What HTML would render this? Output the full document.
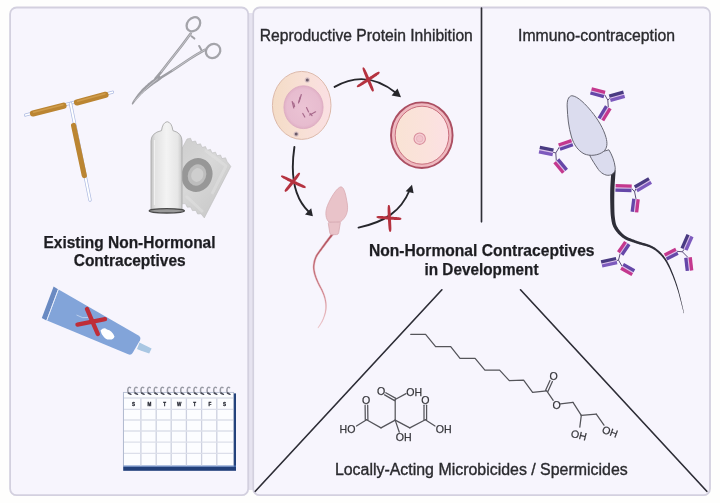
<!DOCTYPE html>
<html><head><meta charset="utf-8">
<style>
html,body{margin:0;padding:0;background:#fefefd;}
body{width:720px;height:503px;overflow:hidden;font-family:"Liberation Sans",sans-serif;}
svg{display:block;position:absolute;left:0;top:0;}
text{font-family:"Liberation Sans",sans-serif;fill:#2a2a2e;}
.b{font-weight:bold;fill:#1f1f22;}
</style></head><body>
<svg width="720" height="503" viewBox="0 0 720 503">
<defs>
<filter id="soft" x="-5%" y="-5%" width="110%" height="110%"><feGaussianBlur stdDeviation="0.45"/></filter>
</defs>
<rect x="0" y="0" width="720" height="503" fill="#fefefd"/>
<!-- PANELS -->
<g id="panels" filter="url(#soft)">
<line x1="250.7" y1="13" x2="250.7" y2="490" stroke="#e6e3f0" stroke-width="4"/>
<rect x="10.1" y="7.5" width="238.1" height="487.7" rx="6.5" ry="6.5" fill="#f7f5fd" stroke="#d3d0df" stroke-width="1.8"/>
<rect x="253.2" y="7.5" width="456.8" height="487.7" rx="6.5" ry="6.5" fill="#f7f5fd" stroke="#d3d0df" stroke-width="1.8"/>
</g>
<!-- DIVIDERS -->
<g id="dividers" stroke="#2d2d36" stroke-width="1.65" stroke-linecap="round" filter="url(#soft)">
<line x1="481.5" y1="8" x2="481.5" y2="221.8"/>
<line x1="255.3" y1="491.3" x2="441.9" y2="289.8"/>
<line x1="706.8" y1="491.3" x2="520.5" y2="289.8"/>
</g>
<!-- TEXT -->
<g id="labels" filter="url(#soft)">
<g stroke="#2a2a2e" stroke-width="0.35">
<text x="259.8" y="40.8" font-size="15.8" textLength="213" lengthAdjust="spacingAndGlyphs">Reproductive Protein Inhibition</text>
<text x="518" y="40.8" font-size="15.8" textLength="157" lengthAdjust="spacingAndGlyphs">Immuno-contraception</text>
<text x="334.9" y="475.1" font-size="15.8" textLength="292.8" lengthAdjust="spacingAndGlyphs">Locally-Acting Microbicides / Spermicides</text>
</g>
<g stroke="#1f1f22" stroke-width="0.25">
<text class="b" x="43.5" y="247.6" font-size="15.8" textLength="172" lengthAdjust="spacingAndGlyphs">Existing Non-Hormonal</text>
<text class="b" x="73.7" y="266.3" font-size="15.8" textLength="112" lengthAdjust="spacingAndGlyphs">Contraceptives</text>
<text class="b" x="369" y="256.0" font-size="15.8" textLength="225.5" lengthAdjust="spacingAndGlyphs">Non-Hormonal Contraceptives</text>
<text class="b" x="424.5" y="274.5" font-size="15.8" textLength="114" lengthAdjust="spacingAndGlyphs">in Development</text>
</g>
</g>
<!-- ===== LEFT PANEL ===== -->
<defs>
<linearGradient id="gCondom" x1="0" x2="1" y1="0" y2="0">
<stop offset="0" stop-color="#c4c4c4"/><stop offset="0.14" stop-color="#e2e2e2"/><stop offset="0.5" stop-color="#f3f3f3"/><stop offset="0.86" stop-color="#e6e6e6"/><stop offset="1" stop-color="#c8c8c8"/>
</linearGradient>
<linearGradient id="gWrap" x1="0" x2="1" y1="0" y2="1">
<stop offset="0" stop-color="#c9c9c9"/><stop offset="0.5" stop-color="#d8d8d8"/><stop offset="1" stop-color="#c4c4c4"/>
</linearGradient>
<linearGradient id="gCopper" x1="0" x2="0" y1="0" y2="1">
<stop offset="0" stop-color="#c8933f"/><stop offset="1" stop-color="#ad7526"/>
</linearGradient>
</defs>
<g id="iud" filter="url(#soft)">
<line x1="25.5" y1="115" x2="112.5" y2="92.2" stroke="#aebbe2" stroke-width="3.2" stroke-linecap="round"/>
<line x1="25.5" y1="115" x2="112.5" y2="92.2" stroke="#ffffff" stroke-width="1.7" stroke-linecap="round"/>
<line x1="70.5" y1="103.5" x2="90" y2="200" stroke="#aebbe2" stroke-width="3.4" stroke-linecap="round"/>
<line x1="70.5" y1="103.5" x2="90" y2="200" stroke="#ffffff" stroke-width="1.9" stroke-linecap="round"/>
<line x1="33" y1="113.4" x2="63.5" y2="105.7" stroke="#bb8533" stroke-width="6.2" stroke-linecap="round"/>
<line x1="77" y1="102.4" x2="105.5" y2="94.8" stroke="#bb8533" stroke-width="6.2" stroke-linecap="round"/>
<line x1="73.6" y1="125.5" x2="84.3" y2="175.5" stroke="#bb8533" stroke-width="5.2" stroke-linecap="round"/>
<line x1="33.5" y1="112.2" x2="63" y2="104.7" stroke="#cf9c4b" stroke-width="1.4" stroke-linecap="round"/>
<line x1="77.5" y1="101.2" x2="105" y2="93.8" stroke="#cf9c4b" stroke-width="1.4" stroke-linecap="round"/>
</g>
<g id="forceps" filter="url(#soft)" fill="none" stroke-linecap="round">
<ellipse cx="193.4" cy="24.3" rx="6.1" ry="7.7" transform="rotate(40 193.4 24.3)" stroke="#a4a4aa" stroke-width="2.3"/>
<ellipse cx="213.1" cy="51" rx="7.6" ry="6.7" transform="rotate(-40 213.1 51)" stroke="#a4a4aa" stroke-width="2.3"/>
<path d="M190.7,33.6 C185,41.5 179.5,48.8 173.4,56.3 C169,61.8 165,67 161.4,71.6 C159.5,74 157.5,76.3 155.5,78.6" stroke="#9e9ea4" stroke-width="2.6"/>
<path d="M204.8,49.8 C199,53 194,56 188.8,59.5 C183,63.4 178,66.8 172.4,70.5 C167.5,73.7 162,77 157,80" stroke="#9e9ea4" stroke-width="2.6"/>
<path d="M190.7,33.6 C185,41.5 179.5,48.8 173.4,56.3 C169,61.8 165,67 161.4,71.6" stroke="#d4d4d9" stroke-width="0.7"/>
<path d="M204.8,49.8 C199,53 194,56 188.8,59.5 C183,63.4 178,66.8 172.4,70.5" stroke="#d4d4d9" stroke-width="0.7"/>
<path d="M191.5,36.2 L194.4,38.6" stroke="#a1a1a7" stroke-width="2"/>
<path d="M199.2,46 L201.4,50" stroke="#a1a1a7" stroke-width="2"/>
<path d="M159.28,75.29 L159.06,75.44 L158.79,75.62 L158.47,75.84 L158.11,76.08 L157.72,76.35 L157.30,76.63 L156.87,76.92 L156.43,77.23 L155.98,77.53 L155.55,77.83 L155.13,78.12 L154.73,78.40 L154.36,78.66 L154.01,78.91 L153.65,79.16 L153.29,79.41 L152.92,79.66 L152.54,79.93 L152.14,80.21 L151.74,80.51 L151.31,80.83 L150.86,81.17 L150.39,81.55 L149.90,81.95 L149.39,82.38 L148.84,82.84 L148.27,83.33 L147.67,83.85 L147.06,84.38 L146.44,84.93 L145.81,85.49 L145.19,86.06 L144.58,86.63 L143.99,87.19 L143.41,87.74 L142.87,88.29 L142.35,88.81 L141.86,89.34 L141.37,89.86 L140.90,90.39 L140.44,90.91 L139.99,91.43 L139.55,91.95 L139.11,92.47 L138.69,93.00 L138.27,93.53 L137.85,94.06 L137.43,94.59 L137.01,95.15 L136.58,95.73 L136.15,96.33 L135.72,96.93 L135.29,97.54 L134.88,98.14 L134.49,98.72 L134.11,99.29 L133.76,99.83 L133.43,100.34 L133.14,100.80 L132.88,101.23 L132.66,101.61 L132.46,101.97 L132.30,102.31 L132.16,102.61 L132.05,102.89 L131.96,103.14 L131.89,103.36 L131.83,103.56 L131.79,103.73 L131.75,103.88 L131.71,104.00 L131.67,104.11 L132.73,104.69 L132.81,104.57 L132.90,104.44 L133.00,104.31 L133.10,104.17 L133.21,104.02 L133.34,103.85 L133.48,103.67 L133.64,103.46 L133.82,103.24 L134.02,102.98 L134.25,102.70 L134.52,102.37 L134.82,102.00 L135.17,101.58 L135.54,101.12 L135.94,100.63 L136.36,100.11 L136.80,99.58 L137.26,99.03 L137.72,98.48 L138.19,97.94 L138.65,97.41 L139.11,96.89 L139.57,96.41 L140.02,95.93 L140.47,95.46 L140.93,95.00 L141.39,94.54 L141.85,94.09 L142.32,93.63 L142.80,93.18 L143.29,92.73 L143.78,92.28 L144.29,91.83 L144.80,91.37 L145.33,90.91 L145.88,90.45 L146.46,89.96 L147.07,89.47 L147.69,88.96 L148.32,88.46 L148.96,87.95 L149.60,87.46 L150.23,86.97 L150.84,86.51 L151.42,86.06 L151.98,85.64 L152.50,85.25 L152.97,84.90 L153.41,84.59 L153.83,84.30 L154.23,84.03 L154.61,83.77 L154.99,83.52 L155.36,83.28 L155.73,83.04 L156.10,82.79 L156.48,82.54 L156.87,82.27 L157.27,82.00 L157.67,81.71 L158.09,81.41 L158.52,81.09 L158.95,80.77 L159.38,80.46 L159.80,80.14 L160.20,79.84 L160.58,79.56 L160.93,79.30 L161.24,79.07 L161.50,78.87 L161.72,78.71 Z" fill="#9d9da3" stroke="none"/>
<path d="M157.5,79 C150,84.5 141.5,92.5 134.5,101" stroke="#d2d2d7" stroke-width="0.7"/>
</g>
<g id="condom" filter="url(#soft)">
<!-- wrapper -->
<path d="M187,139 L190.5,138.2 L192,141.8 L195.5,141 L197,144.6 L200.5,143.8 L202,147.4 L205.5,146.6 L207,150.2 L210.5,149.4 L212,153 L215.5,152.2 L217,155.8 L220.5,155 L222,158.6 L225.5,157.8 L227,161.4 L230.8,166.4 L204.3,217.9 L201,213.8 L197.6,214 L195.8,210.4 L192.4,210.6 L190.6,207 L187.2,207.2 L185.4,203.6 L182,203.8 L159.7,190.5 Z" fill="url(#gWrap)" stroke="#bdbdbd" stroke-width="0.6"/>
<path d="M205,150 L226,166 L212,194 M186,196 L203,212" stroke="#e2e2e2" stroke-width="3" opacity="0.5" fill="none" stroke-linejoin="round"/>
<ellipse cx="197" cy="175" rx="12.2" ry="14" transform="rotate(20 197 175)" fill="#bdbdbd" stroke="#979797" stroke-width="6.2"/>
<ellipse cx="197.3" cy="175" rx="6" ry="7" transform="rotate(20 197.3 175)" fill="#cecece"/>
<!-- condom body -->
<path d="M151,211 L151,141 Q151,133 161.5,130.6 Q162.6,122.4 167.2,121.7 Q171.8,122.4 172.9,130.6 Q182,133 182,141 L182,211 Z" fill="url(#gCondom)" stroke="#aaaaaa" stroke-width="0.9"/>
<path d="M154.5,140 L154.5,205" stroke="#f6f6f6" stroke-width="1.2" opacity="0.8"/>
<ellipse cx="166.8" cy="210.8" rx="17.6" ry="2.2" fill="#9a9a9a" stroke="#4c4c4c" stroke-width="1.3"/>
</g>
<g id="tube" filter="url(#soft)">
<path d="M58.6,289.6 L138.5,335.6 Q141.3,337.4 140,340.2 L132.6,353 Q131,355.4 128.2,354.3 L47,320.6 Z" fill="#82a4d9"/>
<path d="M53.6,286.4 L58,289.2 L46.4,320.4 L41.8,318 Z" fill="#6a8ac2"/>
<path d="M58.3,289.4 L46.8,320.4" stroke="#e8eefb" stroke-width="0.9"/>
<path d="M139.5,342.5 L143,344.2 L151.6,348.6 L149.2,353.6 L140.5,350.6 L137,349 Z" fill="#a9c7e3"/>
<path d="M76.5,315 Q83,319 88,317.5" stroke="#e6ecfa" stroke-width="1" fill="none" opacity="0.55"/>
<path d="M100.5,330.5 Q104,326.5 107,329.5 Q112,330.5 114.5,336.5 Q113.8,339.8 109.5,339.6 Q105.5,339.8 103.5,336.5 Q101.2,334 100.5,330.5 Z" fill="#ffffff"/>
<g stroke="#bf2d39" stroke-width="4.4" stroke-linecap="round">
<line x1="77.5" y1="324.6" x2="105" y2="319.2"/>
<line x1="87" y1="309" x2="97.8" y2="334"/>
</g>
</g>
<g id="calendar" filter="url(#soft)">
<rect x="123.2" y="393.4" width="112.8" height="77.4" fill="#203f7a"/>
<rect x="123.4" y="392.4" width="110.2" height="73.8" fill="#fcfdff" stroke="#b3bbd0" stroke-width="0.9"/>
<rect x="123.4" y="465.6" width="112.6" height="1" fill="#5b82c2"/>
<g stroke="#cdd1e0" stroke-width="1.3">
<line x1="140.9" y1="398" x2="140.9" y2="465.5"/><line x1="156.2" y1="398" x2="156.2" y2="465.5"/><line x1="171.2" y1="398" x2="171.2" y2="465.5"/><line x1="186.4" y1="398" x2="186.4" y2="465.5"/><line x1="201.6" y1="398" x2="201.6" y2="465.5"/><line x1="216.8" y1="398" x2="216.8" y2="465.5"/>
</g>
<g stroke="#dcdfea" stroke-width="1.3">
<line x1="124" y1="398" x2="233" y2="398"/><line x1="124" y1="409.3" x2="233" y2="409.3"/><line x1="124" y1="420" x2="233" y2="420"/><line x1="124" y1="431" x2="233" y2="431"/><line x1="124" y1="442.2" x2="233" y2="442.2"/><line x1="124" y1="453.3" x2="233" y2="453.3"/>
</g>
<g font-size="4.6" font-weight="bold" text-anchor="middle" style="fill:#262a38" stroke="#262a38" stroke-width="0.3">
<text x="133.6" y="405.5">S</text><text x="149.3" y="405.5">M</text><text x="164.6" y="405.5">T</text><text x="179.1" y="405.5">W</text><text x="194.6" y="405.5">T</text><text x="209.8" y="405.5">F</text><text x="224.6" y="405.5">S</text>
</g>
<g id="rings"><path d="M130.5,387.6 C127.4,385.6 127.0,392.2 129.2,393.6" fill="none" stroke="#9a9ca6" stroke-width="1.5" stroke-linecap="round"/><path d="M128.4,393 L130.9,394.3" stroke="#4a4c58" stroke-width="1.5" stroke-linecap="round"/><path d="M137.1,387.6 C134.0,385.6 133.6,392.2 135.8,393.6" fill="none" stroke="#9a9ca6" stroke-width="1.5" stroke-linecap="round"/><path d="M135.0,393 L137.5,394.3" stroke="#4a4c58" stroke-width="1.5" stroke-linecap="round"/><path d="M143.7,387.6 C140.6,385.6 140.2,392.2 142.4,393.6" fill="none" stroke="#9a9ca6" stroke-width="1.5" stroke-linecap="round"/><path d="M141.6,393 L144.1,394.3" stroke="#4a4c58" stroke-width="1.5" stroke-linecap="round"/><path d="M150.3,387.6 C147.2,385.6 146.8,392.2 149.0,393.6" fill="none" stroke="#9a9ca6" stroke-width="1.5" stroke-linecap="round"/><path d="M148.2,393 L150.7,394.3" stroke="#4a4c58" stroke-width="1.5" stroke-linecap="round"/><path d="M156.9,387.6 C153.8,385.6 153.4,392.2 155.6,393.6" fill="none" stroke="#9a9ca6" stroke-width="1.5" stroke-linecap="round"/><path d="M154.8,393 L157.3,394.3" stroke="#4a4c58" stroke-width="1.5" stroke-linecap="round"/><path d="M163.5,387.6 C160.4,385.6 160.0,392.2 162.2,393.6" fill="none" stroke="#9a9ca6" stroke-width="1.5" stroke-linecap="round"/><path d="M161.4,393 L163.9,394.3" stroke="#4a4c58" stroke-width="1.5" stroke-linecap="round"/><path d="M170.1,387.6 C167.0,385.6 166.6,392.2 168.8,393.6" fill="none" stroke="#9a9ca6" stroke-width="1.5" stroke-linecap="round"/><path d="M168.0,393 L170.5,394.3" stroke="#4a4c58" stroke-width="1.5" stroke-linecap="round"/><path d="M176.7,387.6 C173.6,385.6 173.2,392.2 175.4,393.6" fill="none" stroke="#9a9ca6" stroke-width="1.5" stroke-linecap="round"/><path d="M174.6,393 L177.1,394.3" stroke="#4a4c58" stroke-width="1.5" stroke-linecap="round"/><path d="M183.4,387.6 C180.3,385.6 179.9,392.2 182.1,393.6" fill="none" stroke="#9a9ca6" stroke-width="1.5" stroke-linecap="round"/><path d="M181.3,393 L183.8,394.3" stroke="#4a4c58" stroke-width="1.5" stroke-linecap="round"/><path d="M190.0,387.6 C186.9,385.6 186.5,392.2 188.7,393.6" fill="none" stroke="#9a9ca6" stroke-width="1.5" stroke-linecap="round"/><path d="M187.9,393 L190.4,394.3" stroke="#4a4c58" stroke-width="1.5" stroke-linecap="round"/><path d="M196.6,387.6 C193.5,385.6 193.1,392.2 195.3,393.6" fill="none" stroke="#9a9ca6" stroke-width="1.5" stroke-linecap="round"/><path d="M194.5,393 L197.0,394.3" stroke="#4a4c58" stroke-width="1.5" stroke-linecap="round"/><path d="M203.2,387.6 C200.1,385.6 199.7,392.2 201.9,393.6" fill="none" stroke="#9a9ca6" stroke-width="1.5" stroke-linecap="round"/><path d="M201.1,393 L203.6,394.3" stroke="#4a4c58" stroke-width="1.5" stroke-linecap="round"/><path d="M209.8,387.6 C206.7,385.6 206.3,392.2 208.5,393.6" fill="none" stroke="#9a9ca6" stroke-width="1.5" stroke-linecap="round"/><path d="M207.7,393 L210.2,394.3" stroke="#4a4c58" stroke-width="1.5" stroke-linecap="round"/><path d="M216.4,387.6 C213.3,385.6 212.9,392.2 215.1,393.6" fill="none" stroke="#9a9ca6" stroke-width="1.5" stroke-linecap="round"/><path d="M214.3,393 L216.8,394.3" stroke="#4a4c58" stroke-width="1.5" stroke-linecap="round"/><path d="M223.0,387.6 C219.9,385.6 219.5,392.2 221.7,393.6" fill="none" stroke="#9a9ca6" stroke-width="1.5" stroke-linecap="round"/><path d="M220.9,393 L223.4,394.3" stroke="#4a4c58" stroke-width="1.5" stroke-linecap="round"/><path d="M229.6,387.6 C226.5,385.6 226.1,392.2 228.3,393.6" fill="none" stroke="#9a9ca6" stroke-width="1.5" stroke-linecap="round"/><path d="M227.5,393 L230.0,394.3" stroke="#4a4c58" stroke-width="1.5" stroke-linecap="round"/></g>
</g>
<!-- ===== REPRODUCTIVE PROTEIN INHIBITION ===== -->
<defs>
<linearGradient id="gCellOuter" x1="0" x2="1" y1="0" y2="0">
<stop offset="0" stop-color="#f4dcc6"/><stop offset="0.55" stop-color="#f8e0d6"/><stop offset="1" stop-color="#fadfe3"/>
</linearGradient>
<linearGradient id="gEggInner" x1="0" x2="1" y1="0" y2="0">
<stop offset="0" stop-color="#f9e3d4"/><stop offset="0.6" stop-color="#fbe2dc"/><stop offset="1" stop-color="#fce0e4"/>
</linearGradient>
<radialGradient id="gNuc" cx="0.5" cy="0.5" r="0.5">
<stop offset="0" stop-color="#ebc3d4"/><stop offset="0.85" stop-color="#e7bccf"/><stop offset="1" stop-color="#e0b0c6"/>
</radialGradient>
<linearGradient id="gTailPink" x1="0" x2="0" y1="0" y2="1">
<stop offset="0" stop-color="#b2525f"/><stop offset="0.6" stop-color="#c46e79"/><stop offset="1" stop-color="#e3b0b6"/>
</linearGradient>
</defs>
<g id="cell" filter="url(#soft)">
<ellipse cx="301.7" cy="105.4" rx="29.3" ry="34" fill="url(#gCellOuter)" stroke="#dcb9aa" stroke-width="1"/>
<ellipse cx="303.5" cy="107.2" rx="19.6" ry="21.4" fill="url(#gNuc)" stroke="#dcaac0" stroke-width="0.8"/>
<circle cx="307.3" cy="79.9" r="2.6" fill="#c9b3bd" opacity="0.7"/><circle cx="307.3" cy="79.9" r="1.5" fill="#6b5a68"/>
<circle cx="296.2" cy="134.1" r="2.6" fill="#c9b3bd" opacity="0.7"/><circle cx="296.2" cy="134.1" r="1.5" fill="#6b5a68"/>
<g stroke="#a86a8c" stroke-width="1.2" stroke-linecap="round" fill="none">
<path d="M301.3,94.5 L299.2,101.5"/><path d="M300.2,97 L298.5,103"/>
<path d="M292.2,101.5 L293.8,108"/><path d="M293.6,103 L294.6,106.5"/>
<path d="M306.5,107.5 L308.6,112"/><path d="M302.8,113.5 L304.8,117"/>
<path d="M309.7,115 L315.6,111.8"/><path d="M310,113.5 L312,115.5"/>
</g>
</g>
<g id="egg" filter="url(#soft)">
<ellipse cx="421.8" cy="135.2" rx="30.8" ry="32.8" fill="#efb9c0" stroke="#ac4f62" stroke-width="1.9"/>
<ellipse cx="422" cy="135.2" rx="26.8" ry="29" fill="url(#gEggInner)" stroke="#c96f7d" stroke-width="1"/>
<circle cx="419.7" cy="138.7" r="5.7" fill="#f5ced3" stroke="#d98f9d" stroke-width="1.1"/>
<circle cx="419.7" cy="138.7" r="3.3" fill="#f2c2ca" stroke="#e3a7b3" stroke-width="0.6"/>
</g>
<g id="arrows" filter="url(#soft)" fill="none" stroke="#26262c" stroke-width="1.9" stroke-linecap="round">
<path d="M334.6,86.9 Q366.5,68.6 396.5,93.3"/>
<path d="M294.4,147 C291,170 292.5,196 308.5,211.5"/>
<path d="M358.5,227.6 C385,222 401,211 409.5,190.5"/>
<g fill="#26262c" stroke="none">
<path d="M401,97.2 L391.6,95.4 L397.5,88.4 Z"/>
<path d="M312.9,216.3 L305,214.4 L311.2,208.2 Z"/>
<path d="M412,184.8 L405.7,191.2 L413.6,193.2 Z"/>
</g>
</g>
<g id="redx" filter="url(#soft)" fill="#b5323f" stroke="none">
<path d="M362.50,67.86 L362.52,67.97 L362.53,68.10 L362.54,68.24 L362.55,68.40 L362.57,68.58 L362.59,68.78 L362.62,69.00 L362.65,69.23 L362.70,69.49 L362.76,69.76 L362.84,70.06 L362.93,70.38 L363.04,70.72 L363.17,71.09 L363.30,71.48 L363.45,71.88 L363.60,72.31 L363.77,72.75 L363.95,73.22 L364.14,73.70 L364.34,74.21 L364.55,74.73 L364.76,75.27 L364.99,75.82 L365.23,76.41 L365.49,77.04 L365.77,77.72 L366.06,78.41 L366.37,79.13 L366.67,79.86 L366.99,80.59 L367.29,81.30 L367.59,82.00 L367.89,82.68 L368.16,83.32 L368.42,83.91 L368.66,84.47 L368.90,85.02 L369.13,85.55 L369.35,86.07 L369.57,86.57 L369.78,87.05 L369.99,87.51 L370.19,87.94 L370.38,88.36 L370.57,88.75 L370.75,89.12 L370.92,89.45 L371.09,89.76 L371.25,90.04 L371.42,90.30 L371.57,90.53 L371.73,90.73 L371.87,90.92 L372.00,91.08 L372.13,91.23 L372.24,91.37 L372.35,91.48 L372.43,91.59 L372.51,91.69 L373.89,91.11 L373.87,90.99 L373.86,90.85 L373.85,90.69 L373.83,90.52 L373.81,90.33 L373.79,90.11 L373.76,89.88 L373.72,89.63 L373.66,89.35 L373.59,89.06 L373.51,88.74 L373.41,88.41 L373.29,88.05 L373.15,87.66 L373.00,87.26 L372.84,86.83 L372.67,86.38 L372.48,85.91 L372.28,85.42 L372.08,84.92 L371.86,84.40 L371.64,83.86 L371.42,83.31 L371.18,82.74 L370.94,82.14 L370.67,81.50 L370.39,80.82 L370.09,80.12 L369.79,79.40 L369.48,78.67 L369.17,77.94 L368.87,77.22 L368.57,76.53 L368.28,75.86 L368.00,75.23 L367.75,74.65 L367.50,74.10 L367.26,73.57 L367.03,73.06 L366.80,72.57 L366.58,72.09 L366.37,71.64 L366.16,71.21 L365.96,70.80 L365.77,70.42 L365.58,70.05 L365.40,69.71 L365.23,69.40 L365.07,69.11 L364.90,68.85 L364.74,68.61 L364.59,68.40 L364.45,68.21 L364.31,68.04 L364.18,67.89 L364.06,67.76 L363.95,67.64 L363.85,67.53 L363.77,67.43 L363.70,67.34 Z"/>
<path d="M357.34,87.35 L357.45,87.32 L357.58,87.28 L357.73,87.25 L357.89,87.21 L358.08,87.17 L358.27,87.11 L358.49,87.05 L358.73,86.97 L358.99,86.88 L359.26,86.77 L359.56,86.64 L359.87,86.49 L360.20,86.32 L360.56,86.13 L360.93,85.93 L361.32,85.72 L361.74,85.48 L362.17,85.24 L362.62,84.97 L363.09,84.70 L363.57,84.41 L364.07,84.11 L364.59,83.79 L365.12,83.46 L365.68,83.11 L366.28,82.73 L366.91,82.33 L367.58,81.90 L368.25,81.46 L368.94,81.02 L369.62,80.57 L370.30,80.12 L370.96,79.69 L371.59,79.26 L372.19,78.87 L372.75,78.49 L373.27,78.14 L373.78,77.79 L374.28,77.45 L374.76,77.12 L375.23,76.80 L375.67,76.49 L376.10,76.20 L376.50,75.91 L376.88,75.63 L377.24,75.36 L377.57,75.11 L377.88,74.87 L378.16,74.64 L378.41,74.41 L378.64,74.20 L378.84,73.99 L379.02,73.80 L379.17,73.62 L379.32,73.45 L379.44,73.29 L379.55,73.15 L379.65,73.02 L379.74,72.91 L379.82,72.82 L378.98,71.58 L378.86,71.62 L378.72,71.67 L378.57,71.72 L378.40,71.77 L378.21,71.83 L378.00,71.90 L377.77,71.98 L377.53,72.07 L377.27,72.18 L376.99,72.31 L376.69,72.46 L376.37,72.63 L376.03,72.83 L375.67,73.04 L375.29,73.27 L374.89,73.52 L374.47,73.79 L374.04,74.07 L373.59,74.36 L373.12,74.67 L372.64,74.98 L372.14,75.31 L371.62,75.64 L371.09,75.99 L370.53,76.35 L369.93,76.74 L369.30,77.15 L368.63,77.58 L367.96,78.02 L367.27,78.46 L366.59,78.90 L365.91,79.34 L365.26,79.77 L364.63,80.19 L364.04,80.58 L363.49,80.94 L362.98,81.29 L362.48,81.62 L362.00,81.94 L361.54,82.25 L361.09,82.55 L360.66,82.85 L360.26,83.13 L359.87,83.40 L359.50,83.66 L359.16,83.91 L358.84,84.14 L358.54,84.37 L358.27,84.59 L358.03,84.80 L357.81,84.99 L357.62,85.18 L357.44,85.36 L357.29,85.52 L357.16,85.68 L357.03,85.82 L356.93,85.95 L356.83,86.06 L356.74,86.16 L356.66,86.25 Z"/>
<path d="M280.90,176.48 L280.99,176.56 L281.09,176.65 L281.20,176.76 L281.32,176.88 L281.46,177.02 L281.61,177.17 L281.78,177.32 L281.98,177.49 L282.20,177.66 L282.44,177.85 L282.71,178.04 L283.01,178.23 L283.33,178.43 L283.68,178.64 L284.05,178.86 L284.45,179.09 L284.87,179.33 L285.32,179.58 L285.78,179.83 L286.27,180.10 L286.78,180.37 L287.31,180.64 L287.86,180.92 L288.42,181.21 L289.02,181.51 L289.67,181.83 L290.36,182.17 L291.07,182.51 L291.81,182.86 L292.56,183.22 L293.30,183.57 L294.04,183.92 L294.77,184.26 L295.46,184.58 L296.12,184.88 L296.74,185.16 L297.32,185.43 L297.89,185.68 L298.44,185.93 L298.98,186.17 L299.49,186.40 L299.99,186.61 L300.47,186.81 L300.93,187.00 L301.36,187.18 L301.78,187.34 L302.17,187.49 L302.54,187.63 L302.88,187.74 L303.21,187.84 L303.51,187.91 L303.79,187.98 L304.05,188.02 L304.28,188.06 L304.50,188.09 L304.70,188.11 L304.88,188.13 L305.04,188.15 L305.18,188.17 L305.30,188.19 L305.90,186.81 L305.80,186.74 L305.69,186.64 L305.57,186.54 L305.43,186.42 L305.28,186.29 L305.12,186.16 L304.93,186.01 L304.72,185.85 L304.49,185.69 L304.24,185.52 L303.95,185.34 L303.64,185.16 L303.30,184.98 L302.92,184.78 L302.52,184.58 L302.10,184.38 L301.66,184.16 L301.19,183.94 L300.70,183.71 L300.20,183.48 L299.67,183.23 L299.13,182.98 L298.58,182.72 L298.00,182.45 L297.40,182.16 L296.75,181.84 L296.06,181.51 L295.34,181.17 L294.61,180.82 L293.86,180.47 L293.12,180.11 L292.39,179.76 L291.67,179.42 L290.98,179.10 L290.33,178.79 L289.73,178.51 L289.16,178.25 L288.61,177.99 L288.08,177.74 L287.56,177.50 L287.06,177.27 L286.59,177.05 L286.13,176.85 L285.68,176.65 L285.26,176.47 L284.87,176.30 L284.49,176.14 L284.13,176.00 L283.80,175.88 L283.49,175.77 L283.20,175.69 L282.94,175.61 L282.69,175.55 L282.47,175.51 L282.26,175.47 L282.07,175.43 L281.91,175.40 L281.75,175.38 L281.62,175.35 L281.50,175.32 Z"/>
<path d="M299.07,172.52 L298.99,172.58 L298.89,172.65 L298.78,172.72 L298.66,172.80 L298.52,172.90 L298.38,173.00 L298.22,173.12 L298.05,173.25 L297.87,173.40 L297.67,173.57 L297.47,173.76 L297.26,173.98 L297.04,174.22 L296.81,174.48 L296.56,174.76 L296.31,175.06 L296.05,175.38 L295.77,175.71 L295.49,176.06 L295.19,176.43 L294.89,176.81 L294.57,177.20 L294.24,177.61 L293.90,178.03 L293.54,178.49 L293.15,178.97 L292.74,179.49 L292.32,180.04 L291.88,180.60 L291.43,181.16 L290.99,181.73 L290.55,182.29 L290.12,182.84 L289.71,183.37 L289.32,183.87 L288.96,184.34 L288.61,184.78 L288.27,185.20 L287.94,185.62 L287.62,186.02 L287.31,186.41 L287.02,186.79 L286.73,187.15 L286.46,187.50 L286.20,187.83 L285.97,188.15 L285.75,188.46 L285.54,188.74 L285.37,189.02 L285.21,189.27 L285.08,189.51 L284.96,189.74 L284.86,189.95 L284.78,190.15 L284.70,190.34 L284.63,190.50 L284.58,190.66 L284.52,190.79 L284.47,190.91 L284.43,191.02 L285.57,191.98 L285.67,191.92 L285.78,191.85 L285.90,191.78 L286.04,191.69 L286.20,191.60 L286.37,191.49 L286.55,191.37 L286.74,191.23 L286.95,191.07 L287.17,190.89 L287.39,190.69 L287.63,190.46 L287.87,190.21 L288.13,189.94 L288.40,189.65 L288.68,189.33 L288.97,189.00 L289.28,188.64 L289.59,188.28 L289.91,187.89 L290.25,187.49 L290.59,187.07 L290.94,186.65 L291.30,186.21 L291.68,185.75 L292.08,185.25 L292.50,184.72 L292.94,184.18 L293.38,183.62 L293.83,183.05 L294.28,182.48 L294.72,181.91 L295.14,181.36 L295.55,180.84 L295.93,180.33 L296.28,179.87 L296.61,179.42 L296.92,178.99 L297.22,178.57 L297.51,178.17 L297.78,177.78 L298.04,177.40 L298.28,177.04 L298.51,176.69 L298.72,176.36 L298.92,176.05 L299.10,175.75 L299.27,175.47 L299.42,175.20 L299.55,174.95 L299.66,174.71 L299.75,174.49 L299.82,174.29 L299.89,174.10 L299.94,173.92 L299.99,173.76 L300.02,173.62 L300.06,173.49 L300.09,173.38 L300.13,173.28 Z"/>
<path d="M388.15,205.03 L388.12,205.14 L388.09,205.27 L388.05,205.42 L388.00,205.58 L387.95,205.76 L387.90,205.96 L387.85,206.18 L387.80,206.43 L387.75,206.70 L387.71,206.99 L387.68,207.31 L387.66,207.66 L387.64,208.04 L387.62,208.44 L387.61,208.86 L387.61,209.31 L387.60,209.79 L387.60,210.29 L387.61,210.81 L387.62,211.35 L387.63,211.92 L387.64,212.50 L387.66,213.11 L387.68,213.73 L387.70,214.39 L387.73,215.10 L387.76,215.86 L387.80,216.64 L387.84,217.45 L387.88,218.26 L387.93,219.08 L387.97,219.89 L388.02,220.68 L388.06,221.43 L388.11,222.15 L388.15,222.82 L388.19,223.45 L388.23,224.06 L388.27,224.66 L388.31,225.24 L388.35,225.80 L388.40,226.34 L388.44,226.85 L388.48,227.34 L388.53,227.81 L388.57,228.25 L388.62,228.66 L388.68,229.05 L388.73,229.41 L388.80,229.74 L388.87,230.04 L388.95,230.31 L389.02,230.56 L389.10,230.79 L389.17,231.00 L389.24,231.18 L389.31,231.35 L389.36,231.50 L389.41,231.63 L389.45,231.75 L390.95,231.65 L390.97,231.53 L391.00,231.39 L391.04,231.23 L391.08,231.06 L391.13,230.87 L391.17,230.65 L391.22,230.42 L391.26,230.16 L391.30,229.88 L391.33,229.58 L391.36,229.24 L391.37,228.88 L391.38,228.49 L391.37,228.08 L391.37,227.63 L391.35,227.16 L391.34,226.67 L391.32,226.16 L391.29,225.62 L391.26,225.06 L391.24,224.49 L391.21,223.89 L391.18,223.28 L391.15,222.65 L391.12,221.99 L391.08,221.27 L391.05,220.51 L391.01,219.73 L390.97,218.92 L390.93,218.10 L390.89,217.29 L390.84,216.48 L390.80,215.70 L390.76,214.95 L390.71,214.24 L390.67,213.58 L390.63,212.96 L390.59,212.36 L390.55,211.78 L390.51,211.22 L390.47,210.68 L390.43,210.17 L390.38,209.67 L390.34,209.20 L390.30,208.75 L390.25,208.33 L390.20,207.93 L390.15,207.55 L390.10,207.21 L390.04,206.89 L389.97,206.61 L389.91,206.34 L389.84,206.11 L389.77,205.89 L389.70,205.69 L389.64,205.52 L389.58,205.36 L389.53,205.22 L389.48,205.09 L389.45,204.97 Z"/>
<path d="M376.54,217.65 L376.64,217.69 L376.76,217.74 L376.90,217.80 L377.04,217.87 L377.21,217.94 L377.39,218.02 L377.60,218.10 L377.82,218.18 L378.07,218.26 L378.34,218.34 L378.64,218.41 L378.97,218.48 L379.32,218.54 L379.69,218.61 L380.09,218.67 L380.52,218.74 L380.96,218.80 L381.43,218.86 L381.92,218.93 L382.43,218.99 L382.96,219.05 L383.51,219.11 L384.07,219.16 L384.66,219.22 L385.27,219.28 L385.93,219.34 L386.63,219.39 L387.36,219.45 L388.11,219.51 L388.86,219.56 L389.62,219.62 L390.37,219.67 L391.09,219.71 L391.79,219.76 L392.46,219.80 L393.07,219.84 L393.65,219.87 L394.22,219.90 L394.76,219.93 L395.29,219.95 L395.80,219.98 L396.29,220.00 L396.76,220.01 L397.21,220.02 L397.63,220.03 L398.03,220.03 L398.41,220.03 L398.76,220.02 L399.09,220.00 L399.39,219.98 L399.67,219.94 L399.93,219.90 L400.16,219.85 L400.37,219.80 L400.56,219.75 L400.74,219.70 L400.89,219.65 L401.03,219.61 L401.15,219.57 L401.26,219.55 L401.34,218.05 L401.23,218.02 L401.11,217.97 L400.97,217.91 L400.82,217.85 L400.66,217.79 L400.47,217.72 L400.27,217.65 L400.05,217.58 L399.80,217.51 L399.53,217.44 L399.24,217.38 L398.91,217.33 L398.56,217.28 L398.19,217.23 L397.79,217.19 L397.37,217.15 L396.92,217.11 L396.46,217.08 L395.97,217.04 L395.47,217.00 L394.95,216.97 L394.40,216.93 L393.85,216.89 L393.27,216.84 L392.66,216.79 L392.00,216.74 L391.31,216.69 L390.58,216.63 L389.84,216.58 L389.08,216.52 L388.33,216.47 L387.59,216.41 L386.86,216.36 L386.16,216.31 L385.50,216.27 L384.89,216.23 L384.31,216.20 L383.75,216.16 L383.21,216.13 L382.68,216.10 L382.17,216.07 L381.68,216.05 L381.21,216.03 L380.76,216.01 L380.33,216.00 L379.93,215.99 L379.55,215.99 L379.19,215.99 L378.86,216.00 L378.56,216.02 L378.28,216.05 L378.02,216.08 L377.79,216.12 L377.57,216.16 L377.38,216.20 L377.20,216.24 L377.05,216.27 L376.90,216.31 L376.77,216.33 L376.66,216.35 Z"/>
</g>
<g id="pinksperm" filter="url(#soft)">
<path d="M332.09,232.80 L331.86,233.11 L331.57,233.49 L331.24,233.93 L330.86,234.42 L330.46,234.96 L330.02,235.54 L329.56,236.15 L329.09,236.78 L328.60,237.43 L328.12,238.08 L327.63,238.73 L327.16,239.37 L326.69,240.01 L326.19,240.68 L325.68,241.37 L325.16,242.07 L324.63,242.80 L324.09,243.53 L323.55,244.27 L323.01,245.01 L322.48,245.75 L321.95,246.49 L321.43,247.23 L320.93,247.95 L320.43,248.65 L319.92,249.35 L319.41,250.06 L318.89,250.76 L318.37,251.47 L317.85,252.19 L317.35,252.91 L316.87,253.64 L316.41,254.37 L315.97,255.12 L315.57,255.87 L315.20,256.64 L314.88,257.41 L314.58,258.18 L314.31,258.97 L314.07,259.76 L313.85,260.55 L313.66,261.34 L313.49,262.12 L313.34,262.91 L313.22,263.68 L313.11,264.45 L313.03,265.20 L312.98,265.94 L312.94,266.67 L312.94,267.39 L312.96,268.09 L313.01,268.79 L313.08,269.47 L313.17,270.15 L313.28,270.82 L313.41,271.49 L313.55,272.15 L313.70,272.83 L313.87,273.50 L314.05,274.20 L314.25,274.90 L314.46,275.61 L314.70,276.33 L314.95,277.05 L315.22,277.77 L315.51,278.49 L315.80,279.21 L316.10,279.93 L316.41,280.64 L316.72,281.36 L317.04,282.07 L317.36,282.79 L317.70,283.51 L318.06,284.23 L318.43,284.96 L318.81,285.68 L319.20,286.41 L319.60,287.13 L319.99,287.84 L320.37,288.54 L320.74,289.24 L321.09,289.92 L321.42,290.59 L321.73,291.25 L322.02,291.90 L322.30,292.55 L322.57,293.18 L322.82,293.80 L323.07,294.41 L323.30,295.02 L323.53,295.62 L323.74,296.22 L323.94,296.82 L324.13,297.42 L324.30,298.02 L324.47,298.63 L324.62,299.25 L324.76,299.87 L324.89,300.49 L325.01,301.11 L325.12,301.73 L325.21,302.35 L325.29,302.97 L325.37,303.58 L325.42,304.20 L325.47,304.81 L325.50,305.41 L325.53,306.01 L325.53,306.60 L325.53,307.17 L325.52,307.74 L325.49,308.30 L325.46,308.86 L325.41,309.42 L325.34,309.98 L325.27,310.54 L325.18,311.12 L325.07,311.70 L324.95,312.29 L324.81,312.90 L324.66,313.53 L324.48,314.18 L324.29,314.84 L324.09,315.51 L323.87,316.20 L323.64,316.88 L323.39,317.56 L323.14,318.25 L322.87,318.92 L322.60,319.59 L322.32,320.24 L322.03,320.87 L321.72,321.51 L321.37,322.17 L320.99,322.85 L320.59,323.53 L320.18,324.21 L319.77,324.87 L319.37,325.51 L318.99,326.11 L318.64,326.66 L318.33,327.15 L318.06,327.57 L317.85,327.91 L318.15,328.09 L318.36,327.76 L318.64,327.35 L318.97,326.88 L319.34,326.34 L319.74,325.75 L320.16,325.13 L320.60,324.47 L321.03,323.80 L321.45,323.12 L321.86,322.44 L322.23,321.78 L322.57,321.13 L322.88,320.49 L323.18,319.84 L323.47,319.17 L323.76,318.49 L324.04,317.81 L324.30,317.12 L324.55,316.43 L324.79,315.74 L325.02,315.06 L325.22,314.39 L325.42,313.74 L325.59,313.10 L325.74,312.47 L325.88,311.86 L326.00,311.27 L326.11,310.68 L326.20,310.10 L326.28,309.52 L326.34,308.94 L326.39,308.36 L326.43,307.78 L326.46,307.19 L326.47,306.60 L326.47,305.99 L326.47,305.38 L326.44,304.75 L326.41,304.12 L326.36,303.49 L326.30,302.85 L326.23,302.21 L326.14,301.57 L326.04,300.93 L325.93,300.29 L325.81,299.65 L325.68,299.01 L325.53,298.37 L325.38,297.73 L325.21,297.10 L325.03,296.48 L324.83,295.86 L324.63,295.23 L324.41,294.61 L324.18,293.98 L323.94,293.35 L323.69,292.72 L323.43,292.07 L323.15,291.42 L322.87,290.75 L322.57,290.06 L322.23,289.36 L321.88,288.65 L321.52,287.94 L321.14,287.22 L320.76,286.50 L320.38,285.78 L320.01,285.06 L319.64,284.34 L319.29,283.62 L318.95,282.92 L318.64,282.21 L318.33,281.51 L318.03,280.79 L317.73,280.08 L317.44,279.37 L317.16,278.66 L316.88,277.95 L316.62,277.25 L316.37,276.55 L316.14,275.85 L315.92,275.16 L315.73,274.48 L315.55,273.80 L315.39,273.13 L315.23,272.47 L315.09,271.82 L314.96,271.18 L314.85,270.55 L314.76,269.92 L314.68,269.29 L314.62,268.66 L314.59,268.02 L314.57,267.38 L314.58,266.73 L314.62,266.06 L314.69,265.36 L314.77,264.65 L314.87,263.93 L314.99,263.20 L315.14,262.47 L315.31,261.73 L315.50,260.98 L315.71,260.24 L315.95,259.51 L316.21,258.78 L316.49,258.06 L316.80,257.36 L317.13,256.68 L317.51,255.99 L317.92,255.31 L318.37,254.62 L318.84,253.94 L319.33,253.25 L319.84,252.56 L320.37,251.87 L320.89,251.17 L321.43,250.47 L321.96,249.76 L322.47,249.05 L322.99,248.34 L323.51,247.63 L324.05,246.90 L324.59,246.18 L325.14,245.45 L325.69,244.72 L326.24,244.00 L326.79,243.30 L327.32,242.60 L327.84,241.92 L328.35,241.27 L328.84,240.63 L329.32,240.01 L329.82,239.37 L330.31,238.74 L330.81,238.11 L331.30,237.49 L331.77,236.90 L332.22,236.33 L332.64,235.80 L333.03,235.31 L333.37,234.88 L333.67,234.51 L333.91,234.20 Z" fill="url(#gTailPink)" stroke="#ecc3c8" stroke-width="0.45"/>
<path d="M329.3,222.4 L339.6,222 Q340.5,222 340.3,223 L338.7,232.6 Q338.4,234.5 336.6,234.6 L332,234.8 Q330.2,234.8 329.8,232.9 L328.3,223.4 Q328.2,222.4 329.3,222.4 Z" fill="#e9c3c9" stroke="#d7a9b1" stroke-width="0.8"/>
<path d="M340.9,186.8 C337,187.5 331,197 327.5,205.5 C324.5,213 326,219.5 329,222 L340.6,221.7 C345.5,218 348.6,212.5 347.3,204 C346,196 344.5,187 340.9,186.8 Z" fill="#e9c3c9" stroke="#d9abb3" stroke-width="0.8"/>
</g>
<!-- ===== IMMUNO-CONTRACEPTION ===== -->
<g id="graysperm" filter="url(#soft)">
<path d="M611.51,169.85 L611.44,170.72 L611.36,171.81 L611.26,173.10 L611.15,174.54 L611.03,176.12 L610.91,177.78 L610.78,179.51 L610.66,181.27 L610.55,183.02 L610.45,184.73 L610.36,186.38 L610.30,187.92 L610.26,189.40 L610.22,190.89 L610.20,192.38 L610.18,193.86 L610.17,195.34 L610.18,196.80 L610.18,198.25 L610.20,199.68 L610.22,201.07 L610.24,202.44 L610.27,203.76 L610.30,205.04 L610.33,206.27 L610.36,207.48 L610.40,208.66 L610.44,209.82 L610.48,210.95 L610.53,212.05 L610.59,213.14 L610.66,214.21 L610.75,215.25 L610.85,216.28 L610.98,217.29 L611.12,218.26 L611.26,219.19 L611.40,220.06 L611.54,220.92 L611.69,221.76 L611.86,222.59 L612.05,223.41 L612.27,224.23 L612.53,225.05 L612.84,225.87 L613.20,226.70 L613.61,227.53 L614.08,228.37 L614.60,229.21 L615.16,230.05 L615.77,230.90 L616.42,231.75 L617.11,232.60 L617.83,233.44 L618.60,234.27 L619.40,235.07 L620.23,235.85 L621.09,236.59 L621.98,237.30 L622.91,237.97 L623.88,238.59 L624.89,239.16 L625.93,239.69 L626.99,240.18 L628.08,240.63 L629.18,241.06 L630.29,241.47 L631.41,241.86 L632.53,242.24 L633.64,242.62 L634.75,242.99 L635.85,243.37 L636.99,243.75 L638.18,244.12 L639.38,244.46 L640.60,244.79 L641.82,245.10 L643.03,245.42 L644.22,245.72 L645.38,246.03 L646.49,246.35 L647.55,246.67 L648.54,247.01 L649.45,247.36 L650.31,247.72 L651.11,248.08 L651.86,248.44 L652.57,248.80 L653.23,249.17 L653.87,249.54 L654.49,249.93 L655.09,250.34 L655.69,250.77 L656.29,251.23 L656.91,251.73 L657.54,252.25 L658.18,252.81 L658.82,253.38 L659.44,253.96 L660.06,254.57 L660.67,255.20 L661.28,255.86 L661.88,256.54 L662.47,257.24 L663.06,257.98 L663.64,258.74 L664.22,259.53 L664.79,260.36 L665.35,261.22 L665.90,262.10 L666.45,263.01 L666.98,263.94 L667.51,264.90 L668.04,265.90 L668.56,266.93 L669.09,267.99 L669.61,269.09 L670.14,270.24 L670.66,271.42 L671.20,272.65 L671.74,273.92 L672.28,275.23 L672.83,276.57 L673.37,277.96 L673.91,279.38 L674.46,280.84 L675.00,282.33 L675.54,283.86 L676.08,285.42 L676.61,287.02 L677.14,288.66 L677.67,290.33 L678.21,292.12 L678.77,294.09 L679.35,296.20 L679.94,298.39 L680.53,300.62 L681.10,302.83 L681.65,304.99 L682.17,307.03 L682.65,308.92 L683.07,310.60 L683.44,312.02 L683.73,313.14 L684.07,313.06 L683.80,311.93 L683.47,310.50 L683.09,308.81 L682.66,306.92 L682.19,304.86 L681.69,302.69 L681.16,300.46 L680.63,298.22 L680.09,296.01 L679.55,293.88 L679.03,291.89 L678.53,290.07 L678.04,288.38 L677.54,286.73 L677.04,285.11 L676.53,283.53 L676.02,281.98 L675.50,280.46 L674.99,278.99 L674.47,277.55 L673.95,276.14 L673.43,274.77 L672.91,273.44 L672.40,272.15 L671.89,270.90 L671.39,269.69 L670.89,268.52 L670.39,267.39 L669.89,266.29 L669.39,265.23 L668.88,264.19 L668.37,263.19 L667.84,262.22 L667.31,261.27 L666.77,260.34 L666.21,259.44 L665.64,258.56 L665.06,257.71 L664.48,256.90 L663.88,256.11 L663.28,255.36 L662.67,254.63 L662.05,253.93 L661.43,253.25 L660.80,252.59 L660.16,251.96 L659.51,251.34 L658.86,250.75 L658.21,250.18 L657.58,249.64 L656.95,249.13 L656.32,248.64 L655.68,248.18 L655.02,247.73 L654.34,247.30 L653.63,246.88 L652.88,246.47 L652.09,246.06 L651.25,245.65 L650.35,245.24 L649.36,244.83 L648.31,244.44 L647.20,244.07 L646.06,243.71 L644.88,243.36 L643.69,243.01 L642.49,242.67 L641.29,242.32 L640.11,241.96 L638.95,241.60 L637.83,241.22 L636.75,240.83 L635.67,240.42 L634.56,240.01 L633.46,239.60 L632.37,239.20 L631.30,238.79 L630.24,238.36 L629.22,237.93 L628.22,237.48 L627.27,237.00 L626.36,236.51 L625.50,235.99 L624.69,235.43 L623.91,234.83 L623.15,234.19 L622.41,233.50 L621.69,232.78 L620.99,232.04 L620.33,231.27 L619.70,230.49 L619.10,229.71 L618.54,228.92 L618.02,228.14 L617.55,227.37 L617.12,226.63 L616.75,225.93 L616.44,225.25 L616.18,224.59 L615.96,223.92 L615.78,223.25 L615.61,222.57 L615.47,221.86 L615.35,221.12 L615.23,220.34 L615.12,219.52 L615.00,218.64 L614.88,217.74 L614.77,216.82 L614.67,215.89 L614.59,214.93 L614.53,213.94 L614.48,212.93 L614.43,211.88 L614.40,210.81 L614.37,209.70 L614.35,208.57 L614.33,207.40 L614.32,206.20 L614.30,204.96 L614.29,203.69 L614.28,202.38 L614.27,201.04 L614.27,199.66 L614.28,198.25 L614.29,196.82 L614.31,195.37 L614.33,193.92 L614.36,192.45 L614.40,190.99 L614.44,189.53 L614.50,188.08 L614.57,186.58 L614.65,184.97 L614.75,183.28 L614.87,181.55 L614.98,179.81 L615.11,178.09 L615.23,176.43 L615.35,174.86 L615.45,173.42 L615.55,172.13 L615.63,171.03 L615.69,170.15 Z" fill="#2d2d38"/>
<path d="M589.6,155.2 L608.9,149.8 C612,155 614.5,161 615.2,167.5 C615.6,171.5 613,174.6 609.5,175.2 C605,176 600.5,172.5 598.4,169.5 C595,164.5 592,160 589.6,155.2 Z" fill="#dbdcee" stroke="#676773" stroke-width="1"/>
<path d="M571.8,95.7 C568,96.5 566.9,101 567.2,107 C567.6,117 568.5,127 571.5,137 C574,145 578,150.5 584,153.8 C590,156.5 598.5,155.5 603.5,151.5 C607.5,148.2 607.5,143 606,137.5 C603.5,128.5 598,119.5 591.5,111.5 C586,104.8 578,96.2 571.8,95.7 Z" fill="#dbdcee" stroke="#676773" stroke-width="1"/>
</g>
<g id="antibodies" filter="url(#soft)" stroke-linecap="butt">
<g><line x1="607.8" y1="100.1" x2="609.8" y2="98.3" stroke="#5a4c78" stroke-width="1"/><line x1="607.8" y1="100.1" x2="604.5" y2="94.5" stroke="#5a4c78" stroke-width="1"/><line x1="607.8" y1="100.1" x2="608.3" y2="107.3" stroke="#5a4c78" stroke-width="1"/><line x1="609.8" y1="98.3" x2="624.1" y2="94.3" stroke="#dcc3ea" stroke-width="2.4"/><line x1="609.2" y1="96.2" x2="623.5" y2="92.2" stroke="#4a3a82" stroke-width="3.3"/><line x1="610.4" y1="100.4" x2="624.7" y2="96.4" stroke="#7d5abd" stroke-width="3.3"/><line x1="604.5" y1="94.5" x2="591.0" y2="90.9" stroke="#dcc3ea" stroke-width="2.4"/><line x1="605.1" y1="92.4" x2="591.6" y2="88.8" stroke="#c4378e" stroke-width="3.3"/><line x1="603.9" y1="96.6" x2="590.4" y2="93.0" stroke="#6546a8" stroke-width="3.3"/><line x1="608.3" y1="107.3" x2="600.9" y2="119.4" stroke="#dcc3ea" stroke-width="2.4"/><line x1="610.2" y1="108.4" x2="602.8" y2="120.5" stroke="#c4378e" stroke-width="3.3"/><line x1="606.4" y1="106.2" x2="599.0" y2="118.3" stroke="#6546a8" stroke-width="3.3"/></g>
<g><line x1="555.8" y1="152.9" x2="553.1" y2="152.4" stroke="#5a4c78" stroke-width="1"/><line x1="555.8" y1="152.9" x2="559.3" y2="147.1" stroke="#5a4c78" stroke-width="1"/><line x1="555.8" y1="152.9" x2="556.3" y2="160.8" stroke="#5a4c78" stroke-width="1"/><line x1="553.1" y1="152.4" x2="539.4" y2="149.6" stroke="#dcc3ea" stroke-width="2.4"/><line x1="553.5" y1="150.2" x2="539.8" y2="147.4" stroke="#4a3a82" stroke-width="3.3"/><line x1="552.7" y1="154.6" x2="539.0" y2="151.8" stroke="#7d5abd" stroke-width="3.3"/><line x1="559.3" y1="147.1" x2="572.2" y2="142.7" stroke="#dcc3ea" stroke-width="2.4"/><line x1="558.6" y1="145.0" x2="571.5" y2="140.6" stroke="#c4378e" stroke-width="3.3"/><line x1="560.0" y1="149.2" x2="572.9" y2="144.8" stroke="#6546a8" stroke-width="3.3"/><line x1="556.3" y1="160.8" x2="565.0" y2="171.3" stroke="#dcc3ea" stroke-width="2.4"/><line x1="554.6" y1="162.2" x2="563.3" y2="172.7" stroke="#c4378e" stroke-width="3.3"/><line x1="558.0" y1="159.4" x2="566.7" y2="169.9" stroke="#6546a8" stroke-width="3.3"/></g>
<g><line x1="634.6" y1="191.8" x2="635.8" y2="188.9" stroke="#5a4c78" stroke-width="1"/><line x1="634.6" y1="191.8" x2="631.6" y2="188.3" stroke="#5a4c78" stroke-width="1"/><line x1="634.6" y1="191.8" x2="636.0" y2="199.0" stroke="#5a4c78" stroke-width="1"/><line x1="635.8" y1="188.9" x2="650.1" y2="180.5" stroke="#dcc3ea" stroke-width="2.4"/><line x1="634.7" y1="187.0" x2="649.0" y2="178.6" stroke="#4a3a82" stroke-width="3.3"/><line x1="636.9" y1="190.8" x2="651.2" y2="182.4" stroke="#7d5abd" stroke-width="3.3"/><line x1="631.6" y1="188.3" x2="615.5" y2="187.9" stroke="#dcc3ea" stroke-width="2.4"/><line x1="631.7" y1="186.1" x2="615.6" y2="185.7" stroke="#c4378e" stroke-width="3.3"/><line x1="631.5" y1="190.5" x2="615.4" y2="190.1" stroke="#6546a8" stroke-width="3.3"/><line x1="636.0" y1="199.0" x2="634.4" y2="212.1" stroke="#dcc3ea" stroke-width="2.4"/><line x1="638.2" y1="199.3" x2="636.6" y2="212.4" stroke="#c4378e" stroke-width="3.3"/><line x1="633.8" y1="198.7" x2="632.2" y2="211.8" stroke="#6546a8" stroke-width="3.3"/></g>
<g><line x1="618.5" y1="260.1" x2="616.6" y2="260.6" stroke="#5a4c78" stroke-width="1"/><line x1="618.5" y1="260.1" x2="620.2" y2="253.5" stroke="#5a4c78" stroke-width="1"/><line x1="618.5" y1="260.1" x2="622.1" y2="266.3" stroke="#5a4c78" stroke-width="1"/><line x1="616.6" y1="260.6" x2="601.6" y2="263.9" stroke="#dcc3ea" stroke-width="2.4"/><line x1="616.1" y1="258.5" x2="601.1" y2="261.8" stroke="#4a3a82" stroke-width="3.3"/><line x1="617.1" y1="262.7" x2="602.1" y2="266.0" stroke="#7d5abd" stroke-width="3.3"/><line x1="620.2" y1="253.5" x2="627.3" y2="243.1" stroke="#dcc3ea" stroke-width="2.4"/><line x1="618.4" y1="252.3" x2="625.5" y2="241.9" stroke="#c4378e" stroke-width="3.3"/><line x1="622.0" y1="254.7" x2="629.1" y2="244.3" stroke="#6546a8" stroke-width="3.3"/><line x1="622.1" y1="266.3" x2="633.3" y2="272.7" stroke="#dcc3ea" stroke-width="2.4"/><line x1="621.0" y1="268.2" x2="632.2" y2="274.6" stroke="#c4378e" stroke-width="3.3"/><line x1="623.2" y1="264.4" x2="634.4" y2="270.8" stroke="#6546a8" stroke-width="3.3"/></g>
<g><line x1="682.4" y1="251.8" x2="684.0" y2="249.3" stroke="#5a4c78" stroke-width="1"/><line x1="682.4" y1="251.8" x2="676.9" y2="251.3" stroke="#5a4c78" stroke-width="1"/><line x1="682.4" y1="251.8" x2="688.0" y2="257.5" stroke="#5a4c78" stroke-width="1"/><line x1="684.0" y1="249.3" x2="690.0" y2="235.6" stroke="#dcc3ea" stroke-width="2.4"/><line x1="682.0" y1="248.4" x2="688.0" y2="234.7" stroke="#4a3a82" stroke-width="3.3"/><line x1="686.0" y1="250.2" x2="692.0" y2="236.5" stroke="#7d5abd" stroke-width="3.3"/><line x1="676.9" y1="251.3" x2="665.6" y2="256.9" stroke="#dcc3ea" stroke-width="2.4"/><line x1="675.9" y1="249.3" x2="664.6" y2="254.9" stroke="#c4378e" stroke-width="3.3"/><line x1="677.9" y1="253.3" x2="666.6" y2="258.9" stroke="#6546a8" stroke-width="3.3"/><line x1="688.0" y1="257.5" x2="689.5" y2="270.7" stroke="#dcc3ea" stroke-width="2.4"/><line x1="690.2" y1="257.3" x2="691.7" y2="270.5" stroke="#c4378e" stroke-width="3.3"/><line x1="685.8" y1="257.7" x2="687.3" y2="270.9" stroke="#6546a8" stroke-width="3.3"/></g>
</g>
<!-- ===== MOLECULES ===== -->
<g id="molecules" filter="url(#soft)">
<g stroke="#54545a" stroke-width="1.25" stroke-linecap="round" stroke-linejoin="round">
<line x1="395.2" y1="420.1" x2="395.2" y2="399.5"/>
<line x1="395.8" y1="398.4" x2="385.8" y2="392.7"/><line x1="394.6" y1="400.6" x2="384.6" y2="394.9"/>
<line x1="395.2" y1="399.5" x2="406.0" y2="393.6"/>
<line x1="395.2" y1="420.1" x2="381.0" y2="427.9"/>
<line x1="381.0" y1="427.9" x2="366.6" y2="419.7"/>
<line x1="367.9" y1="419.7" x2="367.7" y2="405.2"/><line x1="365.3" y1="419.7" x2="365.1" y2="405.2"/>
<line x1="366.6" y1="419.7" x2="356.5" y2="426.0"/>
<line x1="395.2" y1="420.1" x2="409.8" y2="427.9"/>
<line x1="409.8" y1="427.9" x2="425.3" y2="419.7"/>
<line x1="426.6" y1="419.7" x2="426.6" y2="405.2"/><line x1="424.0" y1="419.7" x2="424.0" y2="405.2"/>
<line x1="425.3" y1="419.7" x2="435.0" y2="426.0"/>
<line x1="395.2" y1="420.1" x2="399.3" y2="432.2"/>
<polyline fill="none" points="410.7,334.3 425.6,334.3 435.6,346.6 450.7,346.6 460.0,358.3 475.1,358.3 484.9,370.1 499.6,370.1 509.3,380.6 523.6,380.2 532.6,392.3 546.7,390.9"/>
<line x1="547.9" y1="391.4" x2="552.4" y2="381.5"/><line x1="545.5" y1="390.4" x2="550.0" y2="380.5"/>
<line x1="546.7" y1="390.9" x2="553.2" y2="400.3"/>
<line x1="560.5" y1="403.9" x2="573.0" y2="402.4"/>
<line x1="573.0" y1="402.4" x2="581.3" y2="415.4"/>
<line x1="581.3" y1="415.4" x2="579.8" y2="427.2"/>
<line x1="581.3" y1="415.4" x2="596.3" y2="414.1"/>
<line x1="596.3" y1="414.1" x2="604.0" y2="425.2"/>
</g>
<g style="fill:#505056" stroke="#505056" stroke-width="0.25">
<text x="381.0" y="395.4" font-size="10.6" text-anchor="middle">O</text>
<text x="414.2" y="395.7" font-size="10.6" text-anchor="middle">OH</text>
<text x="366.2" y="404.0" font-size="10.6" text-anchor="middle">O</text>
<text x="347.5" y="433.0" font-size="10.6" text-anchor="middle">HO</text>
<text x="425.3" y="404.0" font-size="10.6" text-anchor="middle">O</text>
<text x="443.8" y="433.0" font-size="10.6" text-anchor="middle">OH</text>
<text x="403.6" y="441.2" font-size="10.6" text-anchor="middle">OH</text>
<text x="553.6" y="379.8" font-size="10.6" text-anchor="middle">O</text>
<text x="556.5" y="408.9" font-size="10.6" text-anchor="middle">O</text>
<text x="578.8" y="438.7" font-size="10.6" text-anchor="middle" transform="rotate(14 578.8 434.9)">OH</text>
<text x="610.0" y="435.4" font-size="10.6" text-anchor="middle" transform="rotate(20 610.0 431.6)">OH</text>
</g>
</g>
</svg>
</body></html>
